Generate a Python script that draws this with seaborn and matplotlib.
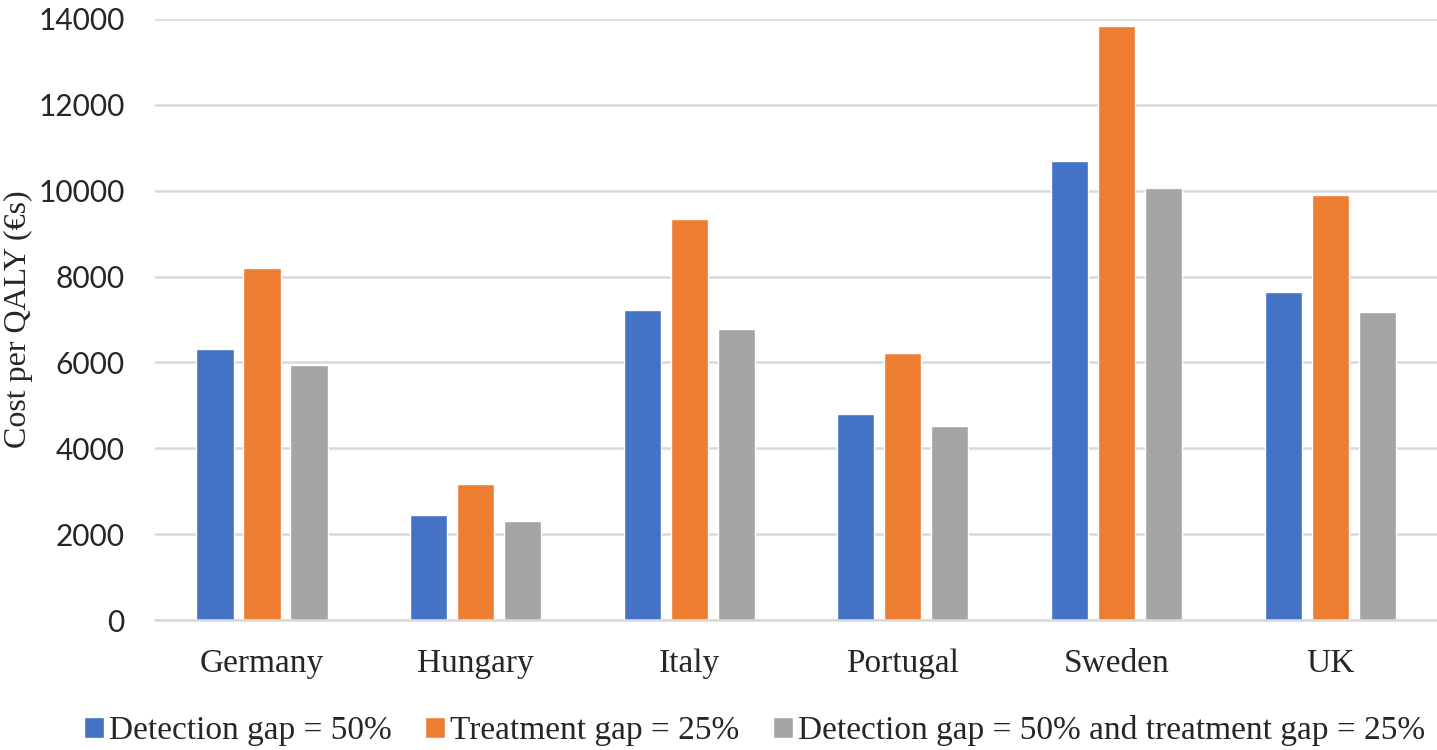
import pandas as pd
import matplotlib
matplotlib.use('Agg')
import matplotlib.pyplot as plt
import seaborn as sns

# values
countries = ['Germany', 'Hungary', 'Italy', 'Portugal', 'Sweden', 'UK']
detection_gap = [6320, 2440, 7210, 4790, 10680, 7630]
treatment_gap = [8190, 3160, 9350, 6210, 13840, 9890]
both_gaps = [5950, 2300, 6790, 4510, 10050, 7170]
series_names = ['Detection gap = 50%', 'Treatment gap = 25%',
                'Detection gap = 50% and treatment gap = 25%']
colors = ['#4472C4', '#ED7D31', '#A5A5A5']
y_ticks = [0, 2000, 4000, 6000, 8000, 10000, 12000, 14000]

rows = []
for name, vals in zip(series_names, [detection_gap, treatment_gap, both_gaps]):
    for c, v in zip(countries, vals):
        rows.append({'Country': c, 'Scenario': name, 'Cost': v})
df = pd.DataFrame(rows)

sns.set_style('white')
plt.rcParams['font.family'] = ['Liberation Serif', 'DejaVu Serif']

fig = plt.figure(figsize=(14.37, 7.5), dpi=100)
ax = fig.add_axes([0.108, 0.173, 0.892, 0.802])

sns.barplot(data=df, x='Country', y='Cost', hue='Scenario', palette=colors,
            width=0.66, gap=0.21, ax=ax, saturation=1, legend=True)

ax.set_ylim(0, 14000)
ax.set_yticks(y_ticks)
ax.set_yticklabels([str(t) for t in y_ticks], fontsize=21.5, family='Lato')
ax.tick_params(axis='y', length=0, pad=22)
ax.tick_params(axis='x', length=0, labelsize=24, pad=20)
ax.yaxis.grid(True, color='#d9d9d9', linewidth=1.8)
ax.set_axisbelow(True)
for s in ['top', 'right', 'left']:
    ax.spines[s].set_visible(False)
ax.spines['bottom'].set_color('#d9d9d9')
ax.spines['bottom'].set_linewidth(1.8)
ax.set_xlabel('')
ax.set_ylabel('Cost per QALY (€s)', fontsize=23, labelpad=4)

handles, labels = ax.get_legend_handles_labels()
ax.legend_.remove()
fig.legend(handles, labels, loc='lower center', bbox_to_anchor=(0.525, -0.035),
           ncol=3, frameon=False, fontsize=24, handlelength=0.6, handleheight=0.6,
           handletextpad=0.15, columnspacing=1.0)

fig.savefig('out.png', dpi=100)
